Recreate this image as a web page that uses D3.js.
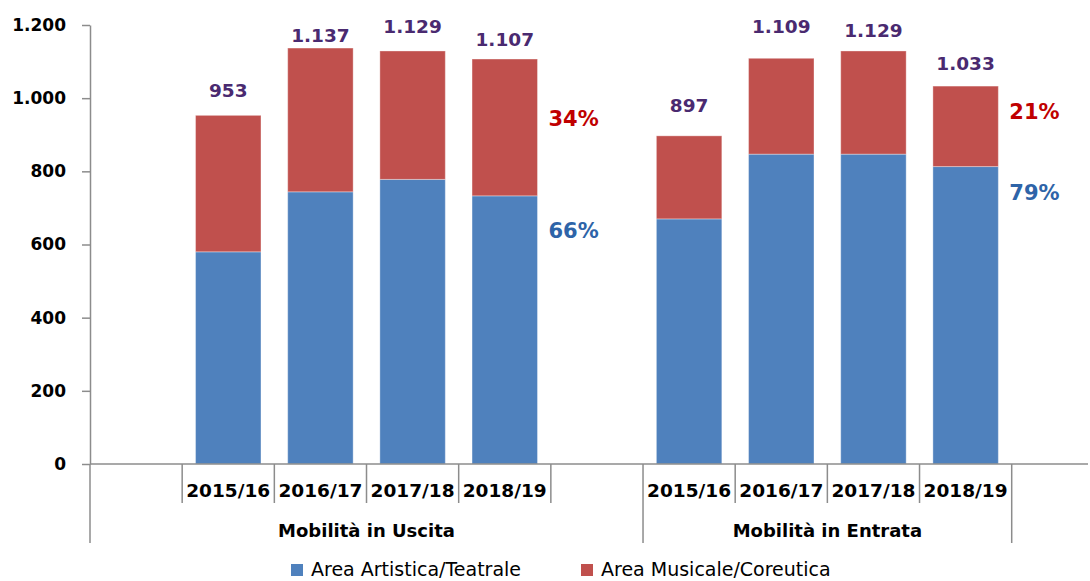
<!DOCTYPE html>
<html>
<head>
<meta charset="utf-8">
<script src="https://cdn.jsdelivr.net/npm/d3@7"></script>
<style>
  body { margin: 0; background: #fff; }
  text { font-family: "DejaVu Sans", Verdana, sans-serif; }
</style>
</head>
<body>
<div id="chart"></div>
<script>
////////////////////////////  Data  ////////////////////////////
const groups = ["Mobilità in Uscita", "Mobilità in Entrata"];
const years = ["2015/16", "2016/17", "2017/18", "2018/19"];
const seriesNames = ["Area Artistica/Teatrale", "Area Musicale/Coreutica"];
const artisticaUscita = [580, 744, 778, 733];
const musicaleUscita = [373, 393, 351, 374];
const artisticaEntrata = [670, 847, 847, 813];
const musicaleEntrata = [227, 262, 282, 220];
const yTicks = [0, 200, 400, 600, 800, 1000, 1200];

// labels were hand placed in the original: px between bar top and label baseline
const totalGap = [[18, 6, 18, 13], [24, 25, 14, 16]];
// percent labels: px below the top of each segment of the last bar [red, blue]
const pctDy = [[67, 42], [33, 33]];

////////////////////////////  Init  ////////////////////////////
const width = 1090, height = 581;
const colors = { art: "#4F81BD", mus: "#C0504D" };
const axisColor = "#8c8c8c";

const svg = d3.select("#chart").append("svg")
  .attr("width", width).attr("height", height);

const fmt = d3.formatLocale({ decimal: ",", thousands: ".", grouping: [3], currency: ["", ""] }).format(",d");

// category slots: a blank slot either side of the first group, a trailing blank one
const rows = [];
rows.push({ key: "pad0", group: 0, year: "" });
years.forEach((yr, i) => rows.push({ key: "u" + i, group: 0, year: yr, gi: 0, i, art: artisticaUscita[i], mus: musicaleUscita[i] }));
rows.push({ key: "pad1", group: 0, year: "" });
years.forEach((yr, i) => rows.push({ key: "e" + i, group: 1, year: yr, gi: 1, i, art: artisticaEntrata[i], mus: musicaleEntrata[i] }));
rows.push({ key: "pad2", group: 2, year: "" });

const bars = rows.filter((d) => d.art !== undefined);

const x0 = 90, slot = 92.17;
const xScale = d3.scaleBand()
  .domain(rows.map((d) => d.key))
  .range([x0, x0 + rows.length * slot])
  .paddingInner(0.29)
  .paddingOuter(0.145);

const yScale = d3.scaleLinear().domain([0, 1200]).range([464, 25]);

////////////////////////////  Bars  ////////////////////////////
const stack = d3.stack().keys(["art", "mus"]);
const layers = stack(bars);

svg.append("g").selectAll("g")
  .data(layers)
  .join("g")
  .attr("fill", (d) => colors[d.key])
  .selectAll("rect")
  .data((d) => d)
  .join("rect")
  .attr("x", (d) => xScale(d.data.key))
  .attr("y", (d) => yScale(d[1]))
  .attr("width", xScale.bandwidth())
  .attr("height", (d) => yScale(d[0]) - yScale(d[1]))
  .attr("stroke", "rgba(255,255,255,0.35)")
  .attr("stroke-width", 1);

// totals
svg.append("g").selectAll("text")
  .data(bars)
  .join("text")
  .attr("x", (d) => xScale(d.key) + xScale.bandwidth() / 2)
  .attr("y", (d) => yScale(d.art + d.mus) - totalGap[d.gi][d.i])
  .attr("text-anchor", "middle")
  .attr("font-size", 18.5)
  .attr("font-weight", "bold")
  .attr("fill", "#4A2A70")
  .text((d) => fmt(d.art + d.mus));

// percent shares beside the last bar of each group
groups.forEach((g, gi) => {
  const last = bars.filter((d) => d.gi === gi).pop();
  const tot = last.art + last.mus;
  const artPct = Math.round((last.art / tot) * 100);
  const lx = xScale(last.key) + xScale.bandwidth() + 11;
  svg.append("text")
    .attr("x", lx)
    .attr("y", yScale(tot) + pctDy[gi][0])
    .attr("font-size", 21).attr("font-weight", "bold")
    .attr("fill", "#C00000")
    .text(100 - artPct + "%");
  svg.append("text")
    .attr("x", lx)
    .attr("y", yScale(last.art) + pctDy[gi][1])
    .attr("font-size", 21).attr("font-weight", "bold")
    .attr("fill", "#2E64A8")
    .text(artPct + "%");
});

////////////////////////////  Axes  ////////////////////////////
const yAxis = d3.axisLeft(yScale)
  .tickValues(yTicks)
  .tickSize(8)
  .tickSizeOuter(0)
  .tickPadding(16)
  .tickFormat(fmt);

const gy = svg.append("g")
  .attr("transform", `translate(${x0}, 0)`)
  .call(yAxis);
gy.select(".domain").attr("stroke", axisColor).attr("stroke-width", 1.5);
gy.selectAll(".tick line").attr("stroke", axisColor).attr("stroke-width", 1.5);
gy.selectAll(".tick text")
  .attr("font-family", "DejaVu Sans, Verdana, sans-serif")
  .attr("font-size", 17).attr("font-weight", "bold").attr("fill", "#000");

// category axis
const gx = svg.append("g");
const baseY = yScale(0);
gx.append("line")
  .attr("x1", x0).attr("x2", width - 2)
  .attr("y1", baseY).attr("y2", baseY)
  .attr("stroke", axisColor).attr("stroke-width", 1.5);

const bounds = d3.range(rows.length).map((i) => ({
  x: x0 + i * xScale.step(),
  long: i === 0 || rows[i].group !== rows[i - 1].group
}));
gx.selectAll(".sep")
  .data(bounds)
  .join("line")
  .attr("class", "sep")
  .attr("x1", (d) => d.x).attr("x2", (d) => d.x)
  .attr("y1", baseY)
  .attr("y2", (d) => (d.long ? 543 : 503))
  .attr("stroke", axisColor).attr("stroke-width", 1.5);

gx.selectAll(".year")
  .data(rows.filter((d) => d.year))
  .join("text")
  .attr("class", "year")
  .attr("x", (d) => xScale(d.key) + xScale.bandwidth() / 2)
  .attr("y", 497)
  .attr("text-anchor", "middle")
  .attr("font-size", 18.5).attr("font-weight", "bold")
  .text((d) => d.year);

gx.selectAll(".group")
  .data(groups)
  .join("text")
  .attr("class", "group")
  .attr("x", (g, gi) => {
    const r = rows.filter((d) => d.group === gi);
    return (xScale(r[0].key) - xScale.step() * xScale.paddingOuter() + xScale(r[r.length - 1].key) + xScale.bandwidth() + xScale.step() * xScale.paddingOuter()) / 2;
  })
  .attr("y", 537)
  .attr("text-anchor", "middle")
  .attr("font-size", 18).attr("font-weight", "bold")
  .text((d) => d);

////////////////////////////  Legend  ////////////////////////////
const legendX = [291, 581];
const legend = svg.append("g").selectAll("g")
  .data(seriesNames)
  .join("g")
  .attr("transform", (d, i) => `translate(${legendX[i]}, 564)`);
legend.append("rect")
  .attr("width", 12).attr("height", 12)
  .attr("fill", (d, i) => (i === 0 ? colors.art : colors.mus));
legend.append("text")
  .attr("x", 20).attr("y", 12)
  .attr("font-size", 19)
  .text((d) => d);
</script>
</body>
</html>
